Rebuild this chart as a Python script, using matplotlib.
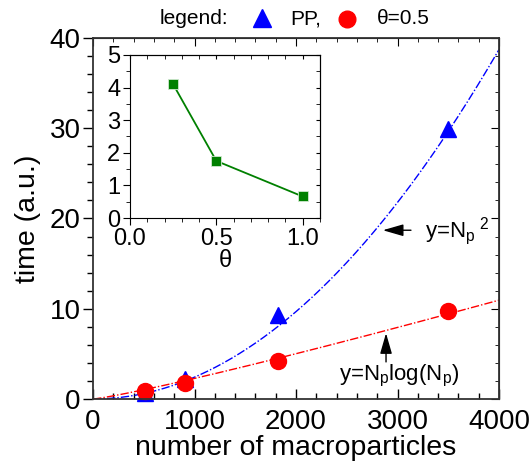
import numpy as np
import matplotlib.pyplot as plt
from matplotlib.lines import Line2D

plt.rcParams['font.family'] = ['Liberation Sans', 'DejaVu Sans']
plt.rcParams['mathtext.fontset'] = 'custom'
plt.rcParams['mathtext.rm'] = 'Liberation Sans'
plt.rcParams['mathtext.it'] = 'Liberation Sans'

# measured timings
n_pp = [512, 906, 1823, 3500]
t_pp = [0.7, 2.2, 9.3, 29.9]
n_tree = [512, 906, 1823, 3494]
t_tree = [0.9, 1.8, 4.2, 9.75]

# fit coefficients: y = a*N^2 and y = b*N*log10(N)
a_pp = 2.42e-6
b_tree = 7.6e-4

# inset: time vs theta
theta = [0.25, 0.5, 1.0]
t_theta = [4.1, 1.75, 0.66]

fig = plt.figure(figsize=(5.31, 4.73), dpi=100)
ax = fig.add_axes([93 / 531, 74 / 473, 406 / 531, 361 / 473])

n = np.linspace(1, 4000, 400)
ax.plot(n, a_pp * n ** 2, color='blue', lw=1, dashes=(6, 1.5, 1, 1.5))
ax.plot(n, b_tree * n * np.log10(n), color='red', lw=1, dashes=(6, 1.5, 1, 1.5))
ax.plot(n_pp, t_pp, '^', color='blue', ms=12, mec='blue', clip_on=False)
ax.plot(n_tree, t_tree, 'o', color='red', ms=11.5, clip_on=False)

ax.set_xlim(0, 4000)
ax.set_ylim(0, 40)
ax.set_xticks([0, 1000, 2000, 3000, 4000])
ax.set_xticks(np.arange(0, 4001, 200), minor=True)
ax.set_yticks([0, 10, 20, 30, 40])
ax.set_yticks(np.arange(0, 41, 2), minor=True)
ax.tick_params(axis='x', which='both', direction='in', labelsize=20, pad=7)
ax.tick_params(axis='y', which='both', direction='out', labelsize=20, pad=2)
ax.tick_params(which='major', length=7, width=1)
ax.tick_params(which='minor', length=4, width=1)
for s in ax.spines.values():
    s.set_linewidth(1.3)
    s.set_color('#333333')

top = ax.secondary_xaxis('top')
top.set_xticks([0, 1000, 2000, 3000, 4000])
top.set_xticks(np.arange(0, 4001, 200), minor=True)
top.tick_params(which='both', direction='in', labeltop=False)
top.tick_params(which='major', length=6)
top.tick_params(which='minor', length=3)
right = ax.secondary_yaxis('right')
right.set_yticks([0, 10, 20, 30, 40])
right.set_yticks(np.arange(0, 41, 2), minor=True)
right.tick_params(which='both', direction='in', labelright=False)
right.tick_params(which='major', length=6)
right.tick_params(which='minor', length=3)

ax.set_xlabel('number of macroparticles', fontsize=20.5, labelpad=0)
ax.set_ylabel('time (a.u.)', fontsize=20.5, labelpad=6)

arrow = dict(arrowstyle='-|>,head_length=0.45,head_width=0.13', color='black', lw=1, mutation_scale=28)
ax.annotate('', xy=(2828, 18.7), xytext=(3160, 18.7), arrowprops=arrow)
ax.text(3270, 18.6, r'y=N$_\mathregular{p}$$^\mathregular{\ 2}$', fontsize=16, va='center', ha='left')
ax.annotate('', xy=(2887, 7.6), xytext=(2887, 3.8), arrowprops=arrow)
ax.text(2420, 2.5, r'y=N$_\mathregular{p}$log(N$_\mathregular{p}$)', fontsize=16, va='center', ha='left')

# inset
ins = fig.add_axes([130 / 531, 255 / 473, 190 / 531, 163 / 473])
ins.plot(theta, t_theta, '-s', color='green', lw=1.3, ms=7, mec='#cfe8cf', mew=0.6)
ins.set_xlim(0, 1.1)
ins.set_ylim(0, 5)
ins.set_xticks([0, 0.5, 1.0])
ins.set_xticklabels(['0.0', '0.5', '1.0'])
ins.set_xticks(np.arange(0, 1.11, 0.1), minor=True)
ins.set_yticks([0, 1, 2, 3, 4, 5])
ins.set_yticks(np.arange(0, 5.01, 0.5), minor=True)
ins.tick_params(which='both', direction='out', labelsize=17, pad=2)
ins.tick_params(which='major', length=5)
ins.tick_params(which='minor', length=3)
ins.set_xlabel('θ', fontsize=17, labelpad=0)
itop = ins.secondary_xaxis('top')
itop.set_xticks([0, 0.5, 1.0])
itop.set_xticks(np.arange(0, 1.11, 0.1), minor=True)
itop.tick_params(which='both', direction='in', labeltop=False, length=3)
iright = ins.secondary_yaxis('right')
iright.set_yticks([0, 1, 2, 3, 4, 5])
iright.set_yticks(np.arange(0, 5.01, 0.5), minor=True)
iright.tick_params(which='both', direction='in', labelright=False, length=3)

# legend row on top
fig.text(160 / 531, 1 - 19 / 473, 'legend:', fontsize=15, va='center', ha='left')
fig.add_artist(Line2D([262 / 531], [1 - 18 / 473], marker='^', color='blue', ms=13,
                      transform=fig.transFigure))
fig.text(290 / 531, 1 - 19 / 473, 'PP,', fontsize=15, va='center', ha='left')
fig.add_artist(Line2D([347 / 531], [1 - 19 / 473], marker='o', color='red', ms=12,
                      transform=fig.transFigure))
fig.text(377 / 531, 1 - 19 / 473, 'θ=0.5', fontsize=15, va='center', ha='left')

fig.savefig('out.png', dpi=100)
